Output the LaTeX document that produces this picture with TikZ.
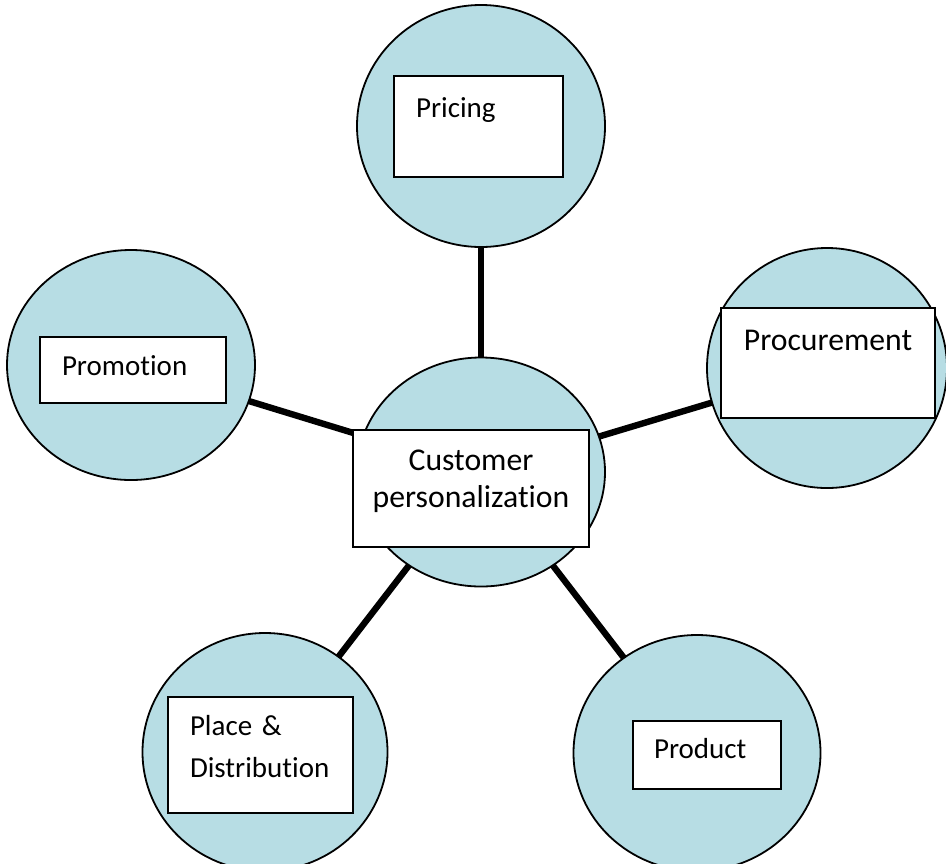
\documentclass[tikz,border=0pt]{standalone}
\usepackage{fontspec}
\setmainfont{Carlito}[Ligatures=NoCommon]
\usetikzlibrary{shapes.geometric}
\definecolor{hubblue}{RGB}{183,221,228}

\tikzset{
  hub/.style={ellipse, draw=black, line width=0.9pt, fill=hubblue, inner sep=0pt, outer sep=0pt},
  spoke/.style={line width=3.2pt, black},
  tag/.style={draw=black, line width=0.9pt, fill=white, inner ysep=0pt, outer sep=0pt, anchor=north west},
  smalltext/.style={font=\fontsize{14.5}{21}\selectfont},
  bigtext/.style={font=\fontsize{15.85}{18.85}\selectfont}
}

\begin{document}
\begin{tikzpicture}[x=0.5pt,y=-0.5pt]
      \useasboundingbox (0,0) rectangle (946,863);

      % Circles
      \foreach \n/\x/\y/\w/\h in {pricing/481/126/248/242, promotion/131/365/248/230, procurement/827/368/240/240, center/481/472/248/229, place/265/752/245/238, product/697/753/247/236}
      {
        \node[hub, minimum width=\w*0.5pt, minimum height=\h*0.5pt] (\n) at (\x,\y) {};
      }

      % Spokes
      \foreach \n in {pricing,promotion,procurement,place,product}
      {
        \draw[spoke] (center) -- (\n);
      }

      % Boxes
      \node[tag, smalltext, inner xsep=11pt, text width=62.5pt, text height=20.5pt, text depth=30pt, align=left] (pricingtag) at (394,76) {Pricing};
      \node[tag, smalltext, inner xsep=11pt, text width=71pt, text height=19pt, text depth=14pt, align=left] (promotiontag) at (40,337) {Promotion};
      \node[tag, bigtext, inner xsep=0pt, text width=107pt, text height=21pt, text depth=34pt, align=center] (procurementtag) at (721,308) {Procurement};
      \node[tag, bigtext, inner xsep=0pt, text width=118pt, text height=20pt, text depth=38.5pt, align=center] (centertag) at (353,430) {Customer\\personalization};
      \node[tag, smalltext, inner xsep=11pt, text width=70.5pt, text height=19pt, text depth=39pt, align=left] (placetag) at (168,697) {Place \&\\Distribution};
      \node[tag, smalltext, inner xsep=10.5pt, text width=53pt, text height=18.5pt, text depth=15.5pt, align=left] (producttag) at (633,721) {Product};
\end{tikzpicture}
\end{document}
